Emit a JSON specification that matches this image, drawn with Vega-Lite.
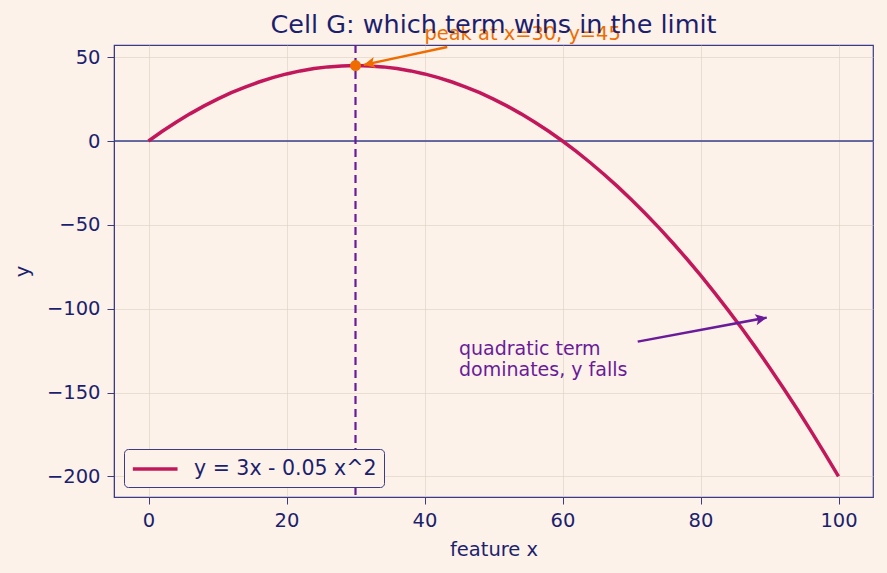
{
  "$schema": "https://vega.github.io/schema/vega-lite/v6.json",
  "width": 759,
  "height": 452,
  "autosize": "none",
  "padding": {"left": 114, "top": 45, "right": 14, "bottom": 76},
  "background": "#fdf2e9",
  "title": {"text": "Cell G: which term wins in the limit", "fontSize": 25.5, "font": "DejaVu Sans", "fontWeight": "normal", "color": "#1c1f6e", "offset": -14},
  "config": {
    "font": "DejaVu Sans",
    "view": {"stroke": "#3b3b86", "strokeWidth": 1.2, "fill": "#fdf2e9"},
    "axis": {"labelFont": "DejaVu Sans", "titleFont": "DejaVu Sans", "labelFontSize": 19.5, "titleFontSize": 19.5, "titleFontWeight": "normal", "labelColor": "#1c1f6e", "titleColor": "#1c1f6e", "domainColor": "#3b3b86", "tickColor": "#3b3b86", "tickSize": 7, "labelPadding": 7, "gridColor": "#d9cdbf", "gridOpacity": 0.55, "gridWidth": 1},
    "legend": {"labelFont": "DejaVu Sans"}
  },
  "datasets": {
    "curve": [
      {"x":0,"y":0,"series":"y = 3x - 0.05 x^2"},{"x":2,"y":5.8,"series":"y = 3x - 0.05 x^2"},{"x":4,"y":11.2,"series":"y = 3x - 0.05 x^2"},{"x":6,"y":16.2,"series":"y = 3x - 0.05 x^2"},{"x":8,"y":20.8,"series":"y = 3x - 0.05 x^2"},{"x":10,"y":25,"series":"y = 3x - 0.05 x^2"},{"x":12,"y":28.8,"series":"y = 3x - 0.05 x^2"},{"x":14,"y":32.2,"series":"y = 3x - 0.05 x^2"},{"x":16,"y":35.2,"series":"y = 3x - 0.05 x^2"},{"x":18,"y":37.8,"series":"y = 3x - 0.05 x^2"},{"x":20,"y":40,"series":"y = 3x - 0.05 x^2"},{"x":22,"y":41.8,"series":"y = 3x - 0.05 x^2"},{"x":24,"y":43.2,"series":"y = 3x - 0.05 x^2"},{"x":26,"y":44.2,"series":"y = 3x - 0.05 x^2"},{"x":28,"y":44.8,"series":"y = 3x - 0.05 x^2"},{"x":30,"y":45,"series":"y = 3x - 0.05 x^2"},{"x":32,"y":44.8,"series":"y = 3x - 0.05 x^2"},{"x":34,"y":44.2,"series":"y = 3x - 0.05 x^2"},{"x":36,"y":43.2,"series":"y = 3x - 0.05 x^2"},{"x":38,"y":41.8,"series":"y = 3x - 0.05 x^2"},{"x":40,"y":40,"series":"y = 3x - 0.05 x^2"},{"x":42,"y":37.8,"series":"y = 3x - 0.05 x^2"},{"x":44,"y":35.2,"series":"y = 3x - 0.05 x^2"},{"x":46,"y":32.2,"series":"y = 3x - 0.05 x^2"},{"x":48,"y":28.8,"series":"y = 3x - 0.05 x^2"},{"x":50,"y":25,"series":"y = 3x - 0.05 x^2"},{"x":52,"y":20.8,"series":"y = 3x - 0.05 x^2"},{"x":54,"y":16.2,"series":"y = 3x - 0.05 x^2"},{"x":56,"y":11.2,"series":"y = 3x - 0.05 x^2"},{"x":58,"y":5.8,"series":"y = 3x - 0.05 x^2"},{"x":60,"y":0,"series":"y = 3x - 0.05 x^2"},{"x":62,"y":-6.2,"series":"y = 3x - 0.05 x^2"},{"x":64,"y":-12.8,"series":"y = 3x - 0.05 x^2"},{"x":66,"y":-19.8,"series":"y = 3x - 0.05 x^2"},{"x":68,"y":-27.2,"series":"y = 3x - 0.05 x^2"},{"x":70,"y":-35,"series":"y = 3x - 0.05 x^2"},{"x":72,"y":-43.2,"series":"y = 3x - 0.05 x^2"},{"x":74,"y":-51.8,"series":"y = 3x - 0.05 x^2"},{"x":76,"y":-60.8,"series":"y = 3x - 0.05 x^2"},{"x":78,"y":-70.2,"series":"y = 3x - 0.05 x^2"},{"x":80,"y":-80,"series":"y = 3x - 0.05 x^2"},{"x":82,"y":-90.2,"series":"y = 3x - 0.05 x^2"},{"x":84,"y":-100.8,"series":"y = 3x - 0.05 x^2"},{"x":86,"y":-111.8,"series":"y = 3x - 0.05 x^2"},{"x":88,"y":-123.2,"series":"y = 3x - 0.05 x^2"},{"x":90,"y":-135,"series":"y = 3x - 0.05 x^2"},{"x":92,"y":-147.2,"series":"y = 3x - 0.05 x^2"},{"x":94,"y":-159.8,"series":"y = 3x - 0.05 x^2"},{"x":96,"y":-172.8,"series":"y = 3x - 0.05 x^2"},{"x":98,"y":-186.2,"series":"y = 3x - 0.05 x^2"},{"x":100,"y":-200,"series":"y = 3x - 0.05 x^2"}
    ],
    "peak": [{"x": 30, "y": 45}],
    "orangeArrow": [{"x": 43.3, "y": 56, "x2": 31.2, "y2": 45.4}],
    "purpleArrow": [{"x": 70.9, "y": -119.6, "x2": 89.6, "y2": -105.3}],
    "orangeText": [{"x": 40, "y": 60, "label": "peak at x=30, y=45"}],
    "purpleText": [{"x": 45, "y": -140, "label": "quadratic term\ndominates, y falls"}]
  },
  "layer": [
    {
      "data": {"values": [{"y": 0}]},
      "mark": {"type": "rule", "color": "#34408a", "strokeWidth": 1.3},
      "encoding": {"y": {"field": "y", "type": "quantitative", "scale": {"domain": [-212.25, 57.25], "nice": false, "zero": false}}}
    },
    {
      "data": {"name": "curve"},
      "mark": {"type": "line", "strokeWidth": 3.5},
      "encoding": {
        "x": {"field": "x", "type": "quantitative", "title": "feature x", "scale": {"domain": [-5, 105], "nice": false, "zero": false}, "axis": {"values": [0, 20, 40, 60, 80, 100], "titlePadding": 11}},
        "y": {"field": "y", "type": "quantitative", "title": "y", "scale": {"domain": [-212.25, 57.25], "nice": false, "zero": false}, "axis": {"values": [50, 0, -50, -100, -150, -200], "titlePadding": 14}},
        "color": {"field": "series", "type": "nominal", "scale": {"range": ["#c2185b"]}, "legend": {"title": null, "orient": "bottom-left", "offset": 10, "symbolType": "M-1,0L3,0", "symbolStrokeWidth": 3.5, "symbolSize": 500, "labelFontSize": 20.5, "labelLimit": 500, "labelColor": "#1c1f6e", "strokeColor": "#3b3b86", "fillColor": "#fdf2e9", "cornerRadius": 4, "padding": 7, "labelOffset": 37}}
      }
    },
    {
      "data": {"values": [{"x": 30}]},
      "mark": {"type": "rule", "color": "#6a1b9a", "strokeWidth": 2.2, "strokeDash": [8, 5]},
      "encoding": {"x": {"field": "x", "type": "quantitative"}}
    },
    {
      "data": {"name": "peak"},
      "mark": {"type": "point", "filled": true, "color": "#ef6c00", "size": 120, "opacity": 1},
      "encoding": {"x": {"field": "x", "type": "quantitative"}, "y": {"field": "y", "type": "quantitative"}}
    },
    {
      "data": {"name": "orangeArrow"},
      "mark": {"type": "rule", "color": "#ef6c00", "strokeWidth": 2.5},
      "encoding": {"x": {"field": "x", "type": "quantitative"}, "y": {"field": "y", "type": "quantitative"}, "x2": {"field": "x2"}, "y2": {"field": "y2"}}
    },
    {
      "data": {"name": "orangeArrow"},
      "mark": {"type": "point", "shape": "M0,0L-1.3,-0.65L-1,0L-1.3,0.65Z", "filled": true, "color": "#ef6c00", "strokeWidth": 1, "size": 300, "angle": 168.4, "opacity": 1},
      "encoding": {"x": {"field": "x2", "type": "quantitative"}, "y": {"field": "y2", "type": "quantitative"}}
    },
    {
      "data": {"name": "purpleArrow"},
      "mark": {"type": "rule", "color": "#6a1b9a", "strokeWidth": 2.5},
      "encoding": {"x": {"field": "x", "type": "quantitative"}, "y": {"field": "y", "type": "quantitative"}, "x2": {"field": "x2"}, "y2": {"field": "y2"}}
    },
    {
      "data": {"name": "purpleArrow"},
      "mark": {"type": "point", "shape": "M0,0L-1.3,-0.65L-1,0L-1.3,0.65Z", "filled": true, "color": "#6a1b9a", "strokeWidth": 1, "size": 300, "angle": 349.3, "opacity": 1},
      "encoding": {"x": {"field": "x2", "type": "quantitative"}, "y": {"field": "y2", "type": "quantitative"}}
    },
    {
      "data": {"name": "orangeText"},
      "mark": {"type": "text", "align": "left", "baseline": "alphabetic", "fontSize": 19.4, "color": "#ef6c00", "font": "DejaVu Sans"},
      "encoding": {"x": {"field": "x", "type": "quantitative"}, "y": {"field": "y", "type": "quantitative"}, "text": {"field": "label"}}
    },
    {
      "data": {"name": "purpleText"},
      "mark": {"type": "text", "align": "left", "baseline": "bottom", "fontSize": 19, "lineHeight": 21.5, "lineBreak": "\n", "color": "#6a1b9a", "font": "DejaVu Sans", "dy": -17},
      "encoding": {"x": {"field": "x", "type": "quantitative"}, "y": {"field": "y", "type": "quantitative"}, "text": {"field": "label"}}
    }
  ]
}
